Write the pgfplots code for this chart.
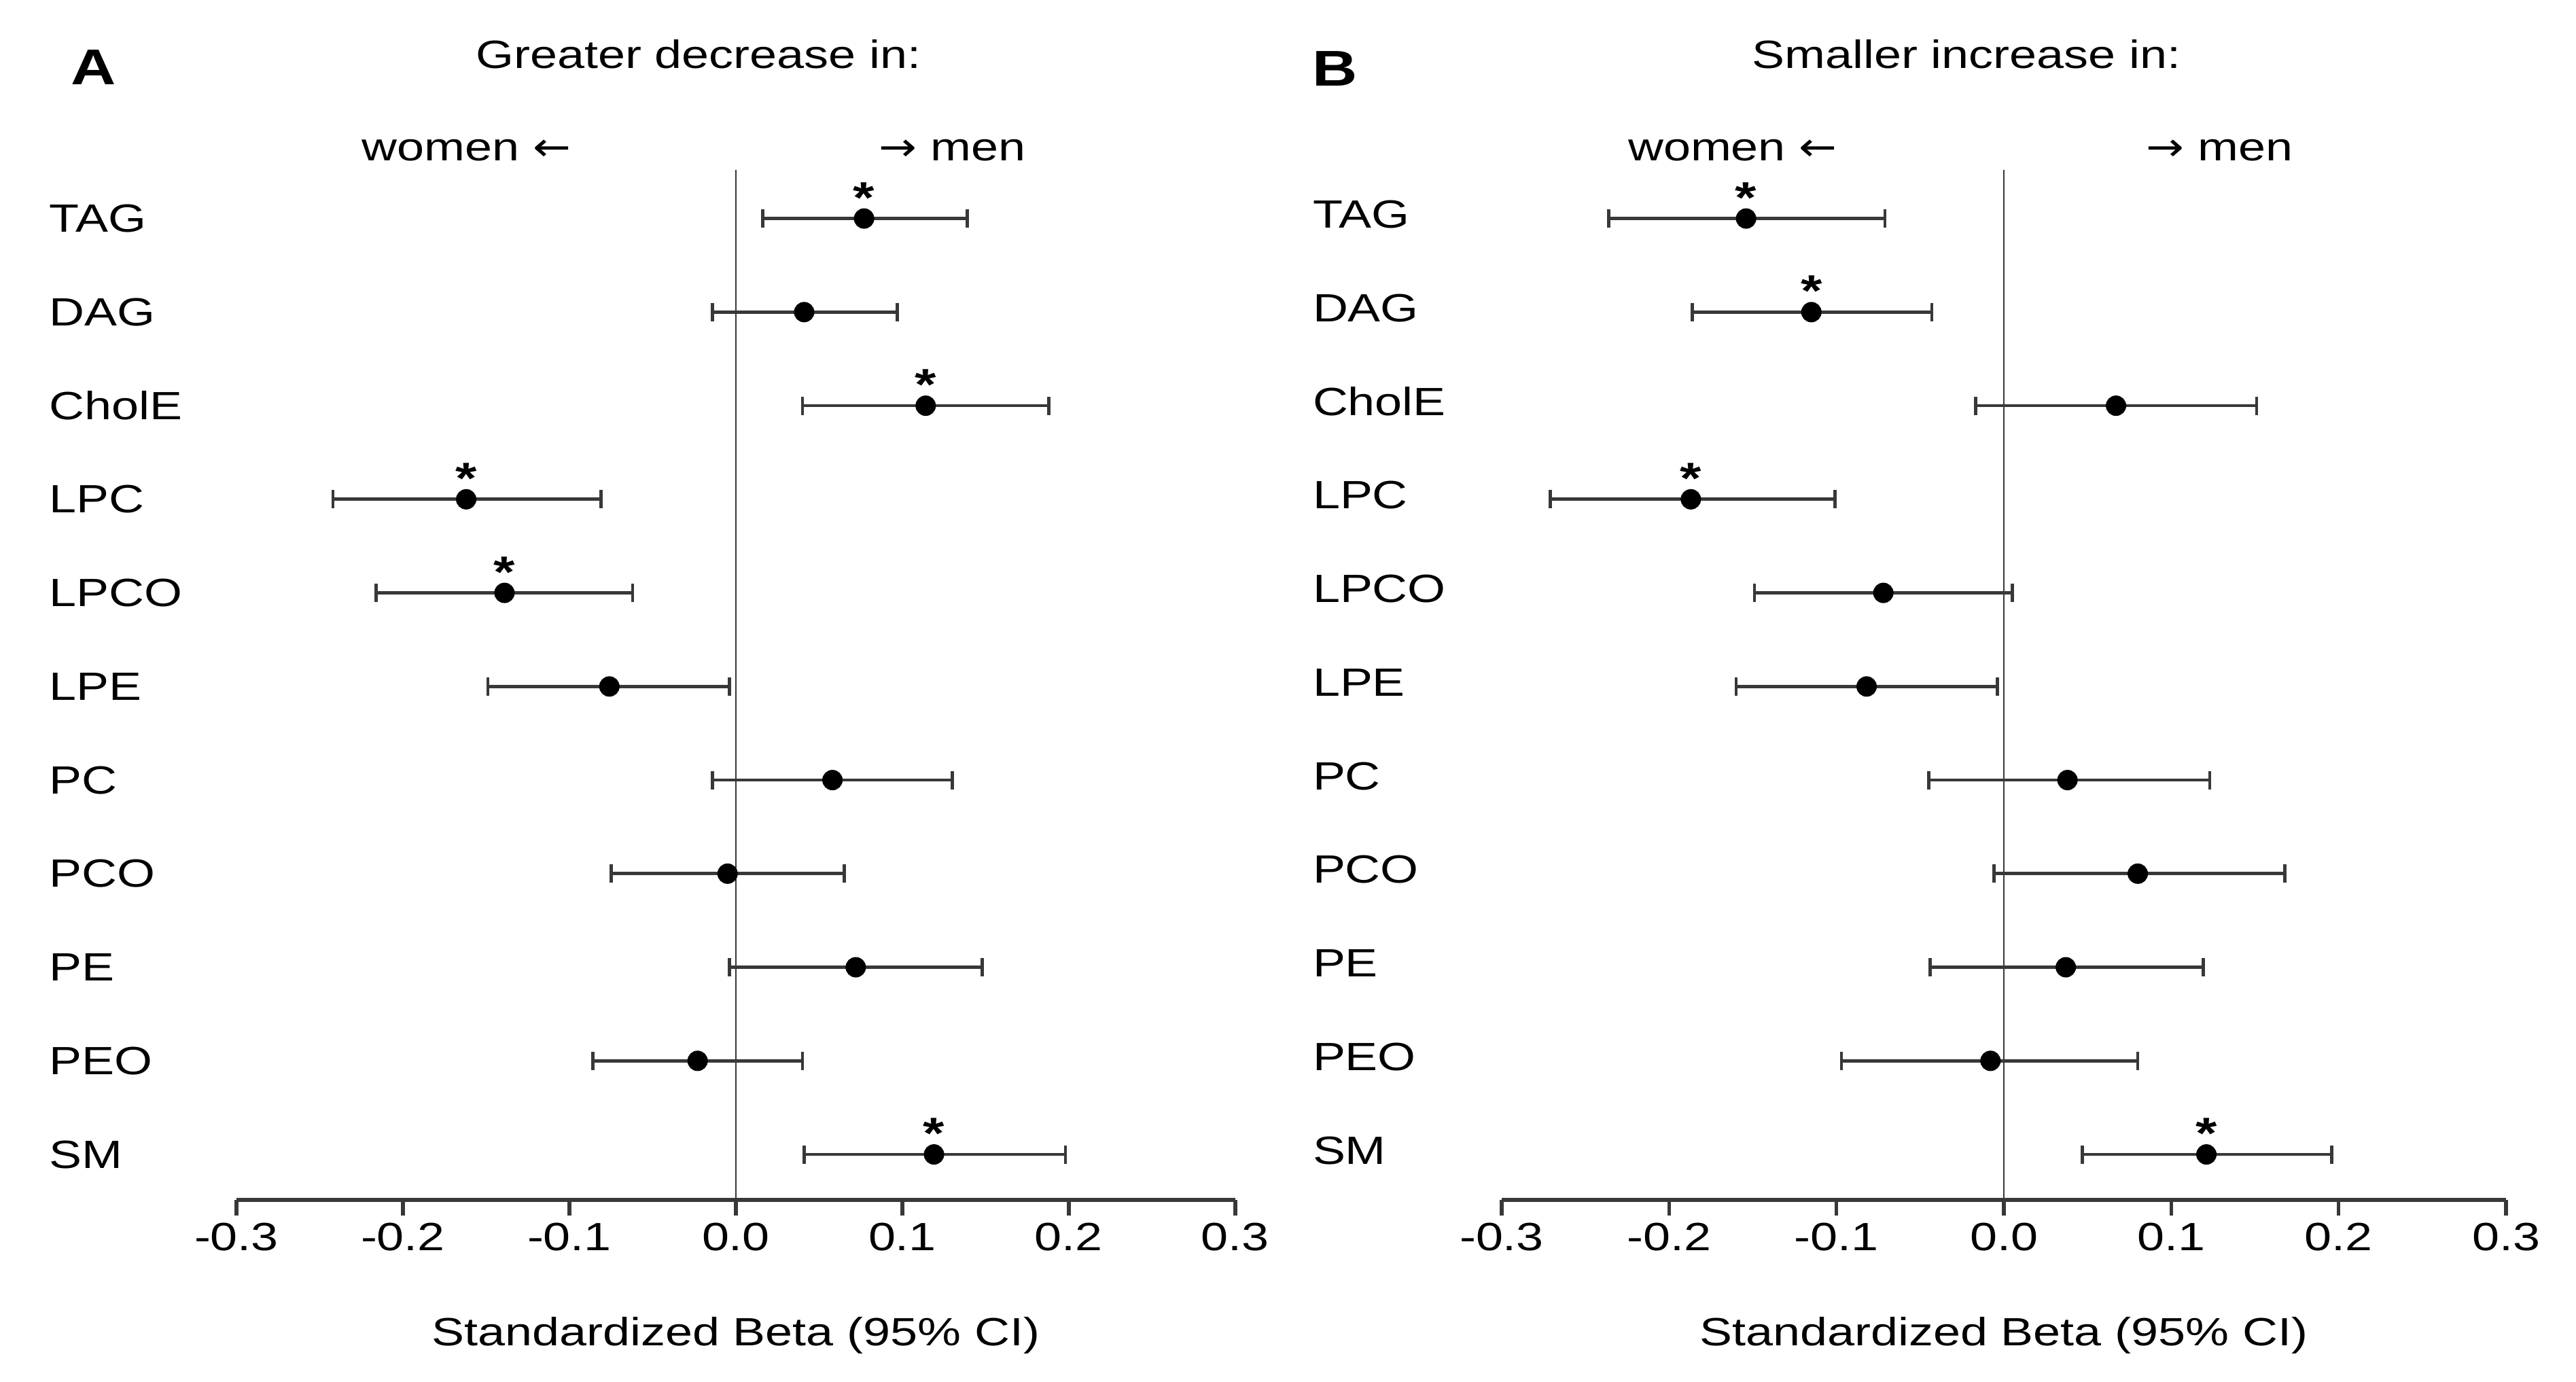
\documentclass[border=0pt]{standalone}
\usepackage{pgfplots}
\pgfplotsset{compat=1.18}
\usepackage{pgfplotstable}
\usepackage{fontspec}
\setmainfont{Liberation Sans}[FakeStretch=1.24]
\newfontfamily\arrowfont{DejaVu Sans}[FakeStretch=1.15]
\definecolor{axisgray}{gray}{0.22}

\pgfplotstableread{
name y b lo hi
TAG 10 0.077 0.016 0.139
DAG 9 0.041 -0.014 0.097
CholE 8 0.114 0.040 0.188
LPC 7 -0.162 -0.242 -0.081
LPCO 6 -0.139 -0.216 -0.062
LPE 5 -0.076 -0.149 -0.004
PC 4 0.058 -0.014 0.130
PCO 3 -0.005 -0.075 0.065
PE 2 0.072 -0.004 0.148
PEO 1 -0.023 -0.086 0.040
SM 0 0.119 0.041 0.198
}\dataA
\pgfplotstableread{
name y b
TAG 10 0.077
CholE 8 0.114
LPC 7 -0.162
LPCO 6 -0.139
SM 0 0.119
}\sigA
\pgfplotstableread{
name y b lo hi
TAG 10 -0.154 -0.236 -0.071
DAG 9 -0.115 -0.186 -0.043
CholE 8 0.067 -0.017 0.151
LPC 7 -0.187 -0.271 -0.101
LPCO 6 -0.072 -0.149 0.005
LPE 5 -0.082 -0.160 -0.004
PC 4 0.038 -0.045 0.123
PCO 3 0.080 -0.006 0.168
PE 2 0.037 -0.044 0.119
PEO 1 -0.008 -0.097 0.080
SM 0 0.121 0.047 0.196
}\dataB
\pgfplotstableread{
name y b
TAG 10 -0.154
DAG 9 -0.115
LPC 7 -0.187
SM 0 0.121
}\sigB

\pgfplotsset{
  forest/.style={
    scale only axis,
    height=303.2pt,
    xmin=-0.3, xmax=0.3, ymin=-0.486, ymax=10.52,
    axis x line*=bottom, axis y line*=left,
    y axis line style={draw=none},
    x axis line style={line width=1.1pt, draw=axisgray},
    xtick={-0.3,-0.2,-0.1,0,0.1,0.2,0.3},
    xticklabels={-0.3,-0.2,-0.1,0.0,0.1,0.2,0.3},
    tick align=outside,
    major tick length=4.6pt,
    xtick style={line width=1.1pt, draw=axisgray},
    ytick={0,1,2,3,4,5,6,7,8,9,10},
    yticklabels={SM,PEO,PE,PCO,PC,LPE,LPCO,LPC,CholE,DAG,TAG},
    ytick style={draw=none},
    xticklabel style={anchor=north, inner sep=0pt, yshift=-2pt},
    clip=false,
    title style={at={(axis description cs:0.5,1)}, anchor=base, yshift=23.8pt, xshift=-11pt, inner sep=0pt},
    xlabel style={at={(axis description cs:0.5,0)}, anchor=base, yshift=-42.8pt, inner sep=0pt},
    xlabel={Standardized Beta (95\% CI)},
  },
  errs/.style={only marks, mark=none, draw=axisgray,
    error bars/.cd, x dir=both, x explicit,
    error mark=|,
    error bar style={line width=0.95pt, draw=axisgray},
    error mark options={line width=0.95pt, mark size=2.7pt, draw=axisgray}},
  dots/.style={only marks, mark=*, mark size=2.8pt, mark options={fill=black, draw=black}},
  stars/.style={only marks, mark=none, nodes near coords={*},
    every node near coord/.append style={anchor=base, inner sep=0pt, yshift=1.7pt,
      font=\bfseries\fontsize{13}{13}\selectfont}},
}

\begin{document}
\begin{tikzpicture}[font=\fontsize{11.6}{14}\selectfont]
\useasboundingbox (0,0) rectangle (758.2pt,-406.8pt);

\begin{axis}[forest, width=294pt, at={(69.6pt,-353.2pt)}, anchor=south west,
  yticklabel style={anchor=west, inner sep=0pt, xshift=-50.6pt},
  title={Greater decrease in:}]
  \addplot[errs] table[x=b, y=y, x error plus expr=\thisrow{hi}-\thisrow{b}, x error minus expr=\thisrow{b}-\thisrow{lo}] {\dataA};
  \addplot[dots] table[x=b, y=y] {\dataA};
  \addplot[stars] table[x=b, y=y] {\sigA};
  \addplot[line width=0.55pt, draw=axisgray] coordinates {(0,-0.486) (0,10.52)};
  \node[anchor=base, inner sep=0pt] at (axis cs:-0.162,10.52) [yshift=2.6pt] {women {\arrowfont ←}};
  \node[anchor=base, inner sep=0pt] at (axis cs:0.130,10.52) [yshift=2.6pt] {{\arrowfont →} men};
\end{axis}

\begin{axis}[forest, width=295.6pt, at={(442pt,-353.2pt)}, anchor=south west,
  yticklabel style={anchor=west, inner sep=0pt, xshift=-51.2pt, yshift=1.2pt},
  title={Smaller increase in:}]
  \addplot[errs] table[x=b, y=y, x error plus expr=\thisrow{hi}-\thisrow{b}, x error minus expr=\thisrow{b}-\thisrow{lo}] {\dataB};
  \addplot[dots] table[x=b, y=y] {\dataB};
  \addplot[stars] table[x=b, y=y] {\sigB};
  \addplot[line width=0.55pt, draw=axisgray] coordinates {(0,-0.486) (0,10.52)};
  \node[anchor=base, inner sep=0pt] at (axis cs:-0.162,10.52) [yshift=2.6pt] {women {\arrowfont ←}};
  \node[anchor=base, inner sep=0pt] at (axis cs:0.129,10.52) [yshift=2.6pt] {{\arrowfont →} men};
\end{axis}

\node[anchor=base west, inner sep=0pt, font=\bfseries\fontsize{14.8}{16}\selectfont] at (20.6pt,-24.8pt) {A};
\node[anchor=base west, inner sep=0pt, font=\bfseries\fontsize{14.8}{16}\selectfont] at (386pt,-25.2pt) {B};
\end{tikzpicture}
\end{document}
